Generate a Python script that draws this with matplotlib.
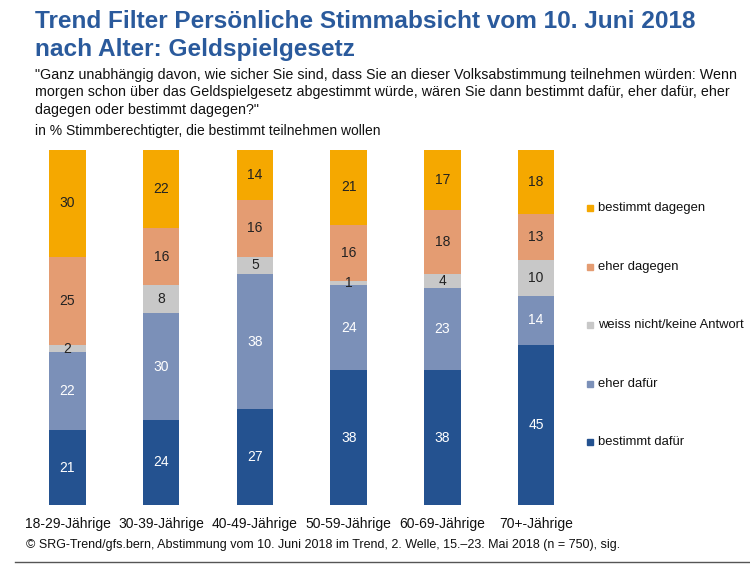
import numpy as np
import matplotlib.pyplot as plt

plt.rcParams['font.family'] = ['Liberation Sans', 'DejaVu Sans']

groups = ['18-29-Jährige', '30-39-Jährige', '40-49-Jährige', '50-59-Jährige', '60-69-Jährige', '70+-Jährige']
series = ['bestimmt dafür', 'eher dafür', 'weiss nicht/keine Antwort', 'eher dagegen', 'bestimmt dagegen']
bestimmt_dafuer = [21, 24, 27, 38, 38, 45]
eher_dafuer = [22, 30, 38, 24, 23, 14]
weiss_nicht = [2, 8, 5, 1, 4, 10]
eher_dagegen = [25, 16, 16, 16, 18, 13]
bestimmt_dagegen = [30, 22, 14, 21, 17, 18]

values = [bestimmt_dafuer, eher_dafuer, weiss_nicht, eher_dagegen, bestimmt_dagegen]
colors = ['#245290', '#7b90b8', '#c8c8c8', '#e49c72', '#f5a800']
text_colors = ['white', 'white', '#222222', '#222222', '#222222']

fig = plt.figure(figsize=(7.5, 5.72), dpi=100)
ax = fig.add_axes([20.6 / 750, 67 / 572, (583 - 20.6) / 750, 355 / 572])

x = np.arange(len(groups))
bottom = np.zeros(len(groups))
for vals, col, tcol in zip(values, colors, text_colors):
    vals = np.array(vals)
    ax.bar(x, vals, width=0.39, bottom=bottom, color=col, edgecolor='none')
    for xi, b, v in zip(x, bottom, vals):
        ax.text(xi, b + v / 2, str(v), ha='center', va='center', fontsize=10, color=tcol)
    bottom += vals

ax.set_xlim(-0.5, 5.5)
ax.set_ylim(0, 100)
ax.axis('off')

for xi, g in zip(x, groups):
    ax.text(xi, -3.5, g, ha='center', va='top', fontsize=10, color='#111111')

# legend
leg_y = [208, 267, 325, 384, 442]
for name, col, y in zip(series[::-1], colors[::-1], leg_y):
    fig.patches.append(plt.Rectangle((587 / 750, 1 - (y + 3) / 572), 6 / 750, 6 / 572,
                                     transform=fig.transFigure, color=col))
    fig.text(598 / 750, 1 - y / 572, name, ha='left', va='center', fontsize=9.4, color='#111111')

fig.text(35 / 750, 1 - 10 / 572, 'Trend Filter Persönliche Stimmabsicht vom 10. Juni 2018\nnach Alter: Geldspielgesetz',
         ha='left', va='top', fontsize=17.6, fontweight='bold', color='#2a5a9c', linespacing=1.3)
fig.text(35 / 750, 1 - 68 / 572,
         '"Ganz unabhängig davon, wie sicher Sie sind, dass Sie an dieser Volksabstimmung teilnehmen würden: Wenn\n'
         'morgen schon über das Geldspielgesetz abgestimmt würde, wären Sie dann bestimmt dafür, eher dafür, eher\n'
         'dagegen oder bestimmt dagegen?"',
         ha='left', va='top', fontsize=10.3, color='#111111', linespacing=1.3)
fig.text(35 / 750, 1 - 131 / 572, 'in % Stimmberechtigter, die bestimmt teilnehmen wollen',
         ha='left', va='center', fontsize=10, color='#111111')
fig.text(26 / 750, 1 - 545 / 572,
         '© SRG-Trend/gfs.bern, Abstimmung vom 10. Juni 2018 im Trend, 2. Welle, 15.–23. Mai 2018 (n = 750), sig.',
         ha='left', va='center', fontsize=9, color='#111111')
fig.add_artist(plt.Line2D([15 / 750, 1], [1 - 562 / 572] * 2, color='#555555', lw=1))

plt.savefig('out.png', dpi=100)
